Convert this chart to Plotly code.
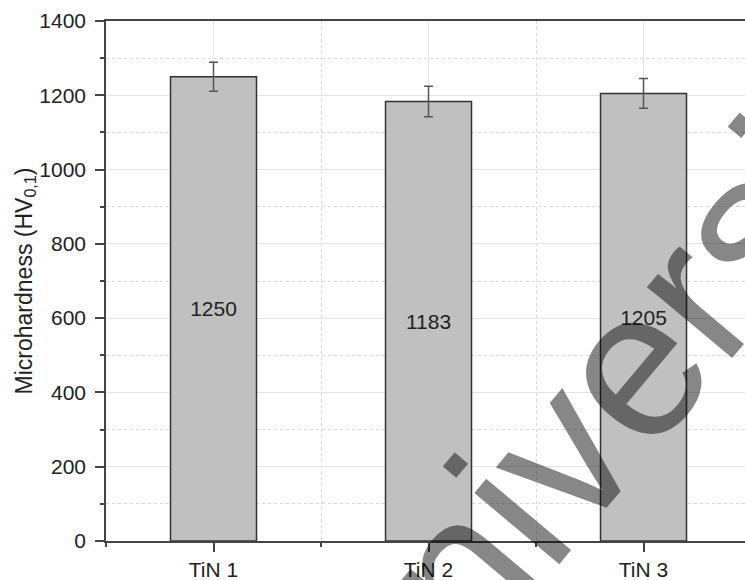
import plotly.graph_objects as go

categories = ["TiN 1", "TiN 2", "TiN 3"]
hardness = [1250, 1183, 1205]
hardness_err = [39, 41, 40]
y_ticks = [0, 200, 400, 600, 800, 1000, 1200, 1400]
watermark_text = "university"

FONT = "Liberation Sans, Arial, sans-serif"
AXIS = "#444444"
TXT = "#222222"

xpos = list(range(len(categories)))

fig = go.Figure()
fig.add_trace(go.Bar(
    x=xpos,
    y=hardness,
    width=0.4,
    marker=dict(color="#c0c0c0", line=dict(color="#333333", width=1.5)),
    error_y=dict(type="data", array=hardness_err, visible=True,
                 color="#555555", thickness=1.5, width=4.5),
    text=[str(v) for v in hardness],
    textposition="inside",
    insidetextanchor="middle",
    textangle=0,
    textfont=dict(family=FONT, size=21, color=TXT),
    showlegend=False,
))

fig.update_layout(
    width=745, height=580,
    margin=dict(l=106, r=0, t=21, b=39),
    paper_bgcolor="white", plot_bgcolor="white",
    font=dict(family=FONT, size=21, color=TXT),
    xaxis=dict(
        range=[-0.5, 2.472],
        tickmode="array", tickvals=xpos, ticktext=categories,
        ticks="outside", ticklen=9, tickwidth=1.5, tickcolor=AXIS,
        showline=True, linecolor=AXIS, linewidth=1.5, mirror=True,
        showgrid=True, gridcolor="#e4e4e4", gridwidth=1,
        zeroline=False,
        tickfont=dict(family=FONT, size=21, color=TXT),
        ticklabelstandoff=0,
        minor=dict(tickmode="linear", tick0=0.5, dtick=1,
                   ticks="outside", ticklen=4, tickwidth=1.5, tickcolor=AXIS,
                   showgrid=True, gridcolor="#d8d8d8", griddash="dot", gridwidth=1),
    ),
    yaxis=dict(
        range=[0, 1400],
        tickmode="array", tickvals=y_ticks,
        ticks="outside", ticklen=9, tickwidth=1.5, tickcolor=AXIS,
        ticklabelstandoff=5,
        showline=True, linecolor=AXIS, linewidth=1.5, mirror=False,
        showgrid=True, gridcolor="#e4e4e4", gridwidth=1,
        zeroline=False,
        tickfont=dict(family=FONT, size=21, color=TXT),
        title=dict(text="Microhardness (HV<sub>0,1</sub>)",
                   font=dict(family=FONT, size=23, color=TXT),
                   standoff=0),
        minor=dict(tickmode="linear", tick0=100, dtick=200,
                   ticks="outside", ticklen=4, tickwidth=1.5, tickcolor=AXIS,
                   showgrid=True, gridcolor="#d8d8d8", griddash="dot", gridwidth=1),
    ),
)

fig.add_annotation(
    text=watermark_text, xref="paper", yref="paper",
    x=0.8194, y=0.3338,
    xanchor="center", yanchor="middle",
    textangle=-50, showarrow=False,
    font=dict(family=FONT, size=210, color="rgba(0,0,0,0.47)"),
)

fig.write_html("out.html")
